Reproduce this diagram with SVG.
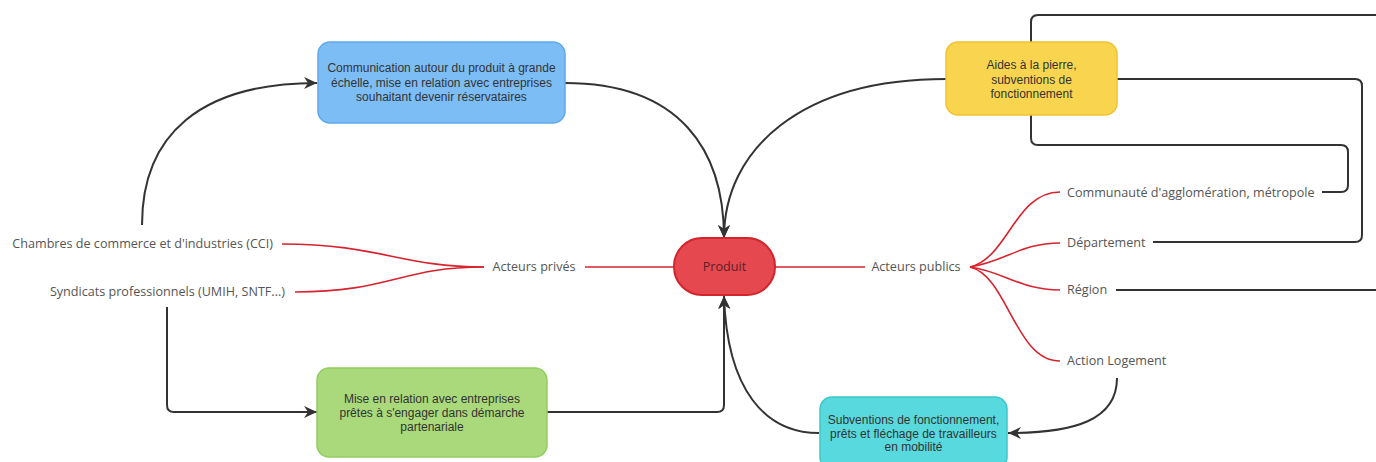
<svg xmlns="http://www.w3.org/2000/svg" width="1376" height="462" viewBox="0 0 1376 462">
  <style>
    .edge { fill: none; stroke: #333333; stroke-width: 2; }
    .red { fill: none; stroke: #d8232e; stroke-width: 1.6; }
    .box { stroke-width: 1.5; }
    .bt { font-family: "Liberation Sans", Arial, sans-serif; font-size: 12px; fill: #333333; text-anchor: middle; }
    .lbl { font-family: "Open Sans", "Noto Sans", sans-serif; font-size: 12.6px; fill: #555555; }
  </style>
  <defs>
    <marker id="arr" markerUnits="userSpaceOnUse" markerWidth="14" markerHeight="14" viewBox="0 0 14 14" refX="13" refY="7" orient="auto">
      <path d="M0,1 L13,7 L0,13 L4,7 z" fill="#333333"/>
    </marker>
  </defs>
  <rect width="1376" height="462" fill="#ffffff"/>

  <g id="connectors">
    <path class="edge" d="M142,225 C142,135 200,83 317,83" marker-end="url(#arr)"/>
    <path class="edge" d="M565,83 C680,83 724,150 724,238" marker-end="url(#arr)"/>
    <path class="edge" d="M946,79 C800,79 724,150 724,238" marker-end="url(#arr)"/>
    <path class="edge" d="M167,307 L167,405 Q167,412 174,412 L317,412" marker-end="url(#arr)"/>
    <path class="edge" d="M547,412 L717,412 Q724,412 724,405 L724,296" marker-end="url(#arr)"/>
    <path class="edge" d="M819,433 C765,433 727,390 724,296" marker-end="url(#arr)"/>
    <path class="edge" d="M1117,378 C1117,420 1075,433 1008,433" marker-end="url(#arr)"/>
    <path class="edge" d="M1031,42 L1031,22 Q1031,15 1038,15 L1376,15"/>
    <path class="edge" d="M1031,115 L1031,138 Q1031,145 1038,145 L1341,145 Q1348,145 1348,152 L1348,185 Q1348,192 1341,192 L1322,192"/>
    <path class="edge" d="M1117,79 L1355,79 Q1362,79 1362,86 L1362,235 Q1362,242 1355,242 L1153,242"/>
    <path class="edge" d="M1116,290 L1376,290"/>

    <path class="red" d="M282,244 C380,244 400,267 484,267"/>
    <path class="red" d="M295,292 C390,292 400,267 484,267"/>
    <path class="red" d="M585,267 L674,267"/>
    <path class="red" d="M775,267 L865,267"/>
    <path class="red" d="M970,267 C1008,258 1015,192 1060,192"/>
    <path class="red" d="M970,267 C1005,262 1020,243 1060,243"/>
    <path class="red" d="M970,267 C1005,272 1020,290 1060,290"/>
    <path class="red" d="M970,267 C1008,276 1015,361 1060,361"/>
  </g>

  <g id="node-communication">
    <rect class="box" x="318" y="42" width="247" height="81" rx="12" fill="#7dbdf5" stroke="#5ea8ec"/>
    <text class="bt" x="441.5" y="72">Communication autour du produit à grande</text>
    <text class="bt" x="441.5" y="86.5">échelle, mise en relation avec entreprises</text>
    <text class="bt" x="441.5" y="101">souhaitant devenir réservataires</text>
  </g>

  <g id="node-aides">
    <rect class="box" x="946" y="42" width="171" height="73" rx="12" fill="#f9d54f" stroke="#f0c232"/>
    <text class="bt" x="1031.5" y="69">Aides à la pierre,</text>
    <text class="bt" x="1031.5" y="83.5">subventions de</text>
    <text class="bt" x="1031.5" y="98">fonctionnement</text>
  </g>

  <g id="node-produit">
    <rect x="674" y="238" width="101" height="57" rx="28" fill="#e64850" stroke="#d2252d" stroke-width="2"/>
    <text class="lbl" x="724.5" y="271" text-anchor="middle" style="fill:#5a2025">Produit</text>
  </g>

  <g id="node-mise-en-relation">
    <rect class="box" x="317" y="368" width="230" height="89" rx="12" fill="#a9d97a" stroke="#92cd5f"/>
    <text class="bt" x="432" y="403">Mise en relation avec entreprises</text>
    <text class="bt" x="432" y="417">prêtes à s'engager dans démarche</text>
    <text class="bt" x="432" y="431">partenariale</text>
  </g>

  <g id="node-subventions">
    <rect class="box" x="820" y="397" width="187" height="72" rx="12" fill="#58d9dd" stroke="#3cc6cb"/>
    <text class="bt" x="913.5" y="424">Subventions de fonctionnement,</text>
    <text class="bt" x="913.5" y="437.5">prêts et fléchage de travailleurs</text>
    <text class="bt" x="913.5" y="451">en mobilité</text>
  </g>

  <g id="node-cci">
    <text class="lbl" x="273" y="248" text-anchor="end">Chambres de commerce et d'industries (CCI)</text>
  </g>
  <g id="node-syndicats">
    <text class="lbl" x="285" y="296" text-anchor="end">Syndicats professionnels (UMIH, SNTF...)</text>
  </g>
  <g id="node-acteurs-prives">
    <text class="lbl" x="534" y="271" text-anchor="middle">Acteurs privés</text>
  </g>
  <g id="node-acteurs-publics">
    <text class="lbl" x="916" y="271" text-anchor="middle">Acteurs publics</text>
  </g>
  <g id="node-communaute">
    <text class="lbl" x="1067" y="197">Communauté d'agglomération, métropole</text>
  </g>
  <g id="node-departement">
    <text class="lbl" x="1067" y="247">Département</text>
  </g>
  <g id="node-region">
    <text class="lbl" x="1067" y="294">Région</text>
  </g>
  <g id="node-action-logement">
    <text class="lbl" x="1067" y="365">Action Logement</text>
  </g>
</svg>
